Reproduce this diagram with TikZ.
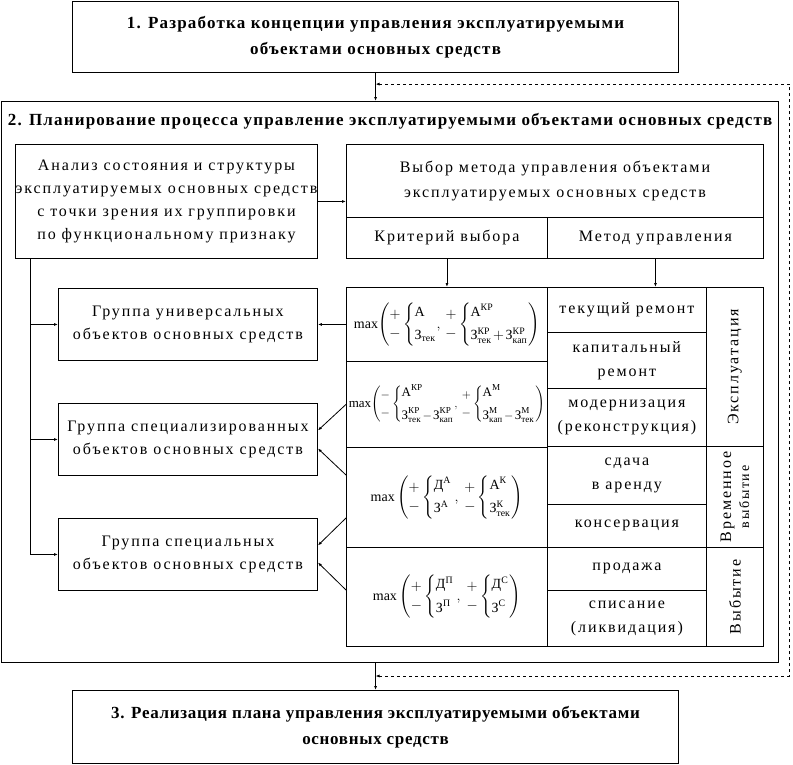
\documentclass[tikz,border=0pt]{standalone}
\usepackage{amsmath}
\usepackage{fontspec}
\setmainfont{Liberation Serif}[LetterSpace=12]
\newfontfamily\headfont{Liberation Serif}[LetterSpace=7]
\newfontfamily\narrowhead{Liberation Serif}[LetterSpace=4]
\newfontfamily\formfont{Liberation Serif}
\usetikzlibrary{arrows.meta,positioning,calc}

\newcommand{\tx}[1]{\text{#1}}
\newcommand{\pmpair}[2]{\begin{array}{@{}c@{}}#1\\[3pt]#2\end{array}}
\newcommand{\bracepair}[2]{\left\{\begin{array}{@{}l@{}}#1\\[7pt]#2\end{array}\right.}

\tikzset{
  box/.style={draw, line width=0.9pt, inner sep=0pt, anchor=north west, align=center, font=\fontsize{16}{23}\selectfont},
  cell/.style={draw, line width=0.8pt, inner sep=0pt, anchor=north west, align=center, font=\fontsize{16}{24}\selectfont},
  formula/.style={cell, font=\formfont\fontsize{13}{15}\selectfont},
  head/.style={box, line width=1.1pt, font=\headfont\bfseries\fontsize{17}{26}\selectfont},
  arr/.style={line width=0.8pt, -{Latex[length=4pt,width=3pt]}},
}

\begin{document}
\begin{tikzpicture}[x=1pt,y=-1pt]
\useasboundingbox (0,0) rectangle (793,764);

% stages
\node[head, minimum width=606, minimum height=71] (plan1) at (72,1) {1. Разработка концепции управления эксплуатируемыми\\объектами основных средств};
\node[box, line width=1.2pt, minimum width=777, minimum height=561] (plan2) at (1,101) {};
\node[font=\headfont\bfseries\fontsize{17}{20}\selectfont] (plan2t) at ($(plan2.north)+(0,20)$) {2. Планирование процесса управление эксплуатируемыми объектами основных средств};
\node[head, font=\narrowhead\bfseries\fontsize{17}{26}\selectfont, minimum width=606, minimum height=73] (plan3) at (72,690) {3. Реализация плана управления эксплуатируемыми объектами\\основных средств};

% analysis and choice
\node[box, minimum width=302, minimum height=114] (analysis) at (15,144) {Анализ состояния и структуры\\эксплуатируемых основных средств\\с точки зрения их группировки\\по функциональному признаку};
\node[box, minimum width=417, minimum height=73, font=\fontsize{16}{25}\selectfont] (vybor) at (346,144) {Выбор метода управления объектами\\эксплуатируемых основных средств};
\node[box, minimum width=201, minimum height=41] (crit) at (346,217) {Критерий выбора};
\node[box, minimum width=216, minimum height=41] (method) at (547,217) {Метод управления};

% groups
\node[box, minimum width=259, minimum height=72] (grp1) at (58,288) {Группа универсальных\\объектов основных средств};
\node[box, minimum width=259, minimum height=72] (grp2) at (58,403) {Группа специализированных\\объектов основных средств};
\node[box, minimum width=259, minimum height=72] (grp3) at (58,518) {Группа специальных\\объектов основных средств};

% criteria
\node[formula, font=\formfont\fontsize{14}{16}\selectfont, minimum width=201, minimum height=74] (f1) at (346,287) {$\medmuskip=2mu \tx{max}\!\left(\pmpair{+}{-}\bracepair{\tx{А}}{\tx{З}_{\tx{тек}}}\!,\,\pmpair{+}{-}\bracepair{\tx{А}^{\tx{КР}}}{\tx{З}^{\tx{КР}}_{\tx{тек}}+\tx{З}^{\tx{КР}}_{\tx{кап}}}\right)$};
\node[formula, minimum width=201, minimum height=86] (f2) at (346,361) {$\medmuskip=2mu \tx{max}\!\left(\pmpair{-}{-}\bracepair{\tx{А}^{\tx{КР}}}{\tx{З}^{\tx{КР}}_{\tx{тек}}-\tx{З}^{\tx{КР}}_{\tx{кап}}}\!,\,\pmpair{+}{-}\bracepair{\tx{А}^{\tx{М}}}{\tx{З}^{\tx{М}}_{\tx{кап}}-\tx{З}^{\tx{М}}_{\tx{тек}}}\right)$};
\node[formula, font=\formfont\fontsize{14}{16}\selectfont, minimum width=201, minimum height=100] (f3) at (346,447) {$\tx{max}\left(\pmpair{+}{-}\bracepair{\tx{Д}^{\tx{А}}}{\tx{З}^{\tx{А}}},\ \pmpair{+}{-}\bracepair{\tx{А}^{\tx{К}}}{\tx{З}^{\tx{К}}_{\tx{тек}}}\right)$};
\node[formula, font=\formfont\fontsize{14}{16}\selectfont, minimum width=201, minimum height=99] (f4) at (346,547) {$\tx{max}\left(\pmpair{+}{-}\bracepair{\tx{Д}^{\tx{П}}}{\tx{З}^{\tx{П}}},\ \pmpair{+}{-}\bracepair{\tx{Д}^{\tx{С}}}{\tx{З}^{\tx{С}}}\right)$};

% methods
\node[cell, minimum width=159, minimum height=45] (m1) at (547,287) {текущий ремонт};
\node[cell, minimum width=159, minimum height=56] (m2) at (547,332) {капитальный\\ремонт};
\node[cell, minimum width=159, minimum height=58] (m3) at (547,388) {модернизация\\(реконструкция)};
\node[cell, minimum width=159, minimum height=58] (m4) at (547,446) {сдача\\в аренду};
\node[cell, minimum width=159, minimum height=43] (m5) at (547,504) {консервация};
\node[cell, minimum width=159, minimum height=43] (m6) at (547,547) {продажа};
\node[cell, minimum width=159, minimum height=56] (m7) at (547,590) {списание\\(ликвидация)};

% kinds
\node[cell, minimum width=57, minimum height=159] (g1) at (706,287) {};
\node[cell, minimum width=57, minimum height=101] (g2) at (706,446) {};
\node[cell, minimum width=57, minimum height=99] (g3) at (706,547) {};
\node[rotate=90, font=\fontsize{16}{18}\selectfont] at (g1) {Эксплуатация};
\node[rotate=90, align=center, font=\fontsize{16}{18}\selectfont] at (g2) {Временное\\{\fontsize{14}{16}\selectfont выбытие}};
\node[rotate=90, font=\fontsize{16}{18}\selectfont] at (g3) {Выбытие};

% connectors
\draw[arr] (plan1.south) -- (plan1.south |- plan2.north);
\draw[arr] (plan2.south -| plan3.north) -- (plan3.north);
\coordinate (fbtop) at ($(plan1.south)+(0,11)$);
\coordinate (fbbot) at ($(plan3.north)+(0,-14)$);
\draw[line width=0.8pt, dashed, {Latex[length=4pt,width=3pt]}-{Latex[length=4pt,width=3pt]}] (fbbot) -- ++(414,0) |- (fbtop);
\draw[arr] (analysis.east) -- (analysis.east -| vybor.west);
\draw[arr] (crit.south) -- (crit.south |- f1.north);
\draw[arr] (method.south) -- (method.south |- m1.north);
\coordinate (trunk) at ($(analysis.south west)+(15,0)$);
\draw[arr] (trunk) |- (grp3.west);
\draw[arr] (trunk |- grp1.west) -- (grp1.west);
\draw[arr] (trunk |- grp2.west) -- (grp2.west);
\draw[arr] (f1.west) -- (grp1.east);
\draw[arr] (f2.west) -- ($(grp2.east)+(0,-9)$);
\draw[arr] ($(f3.north west)+(0,28)$) -- ($(grp2.east)+(0,9)$);
\draw[arr] ($(f3.north west)+(0,71)$) -- ($(grp3.east)+(0,-9)$);
\draw[arr] ($(f4.north west)+(0,43)$) -- ($(grp3.east)+(0,8)$);
\end{tikzpicture}
\end{document}
